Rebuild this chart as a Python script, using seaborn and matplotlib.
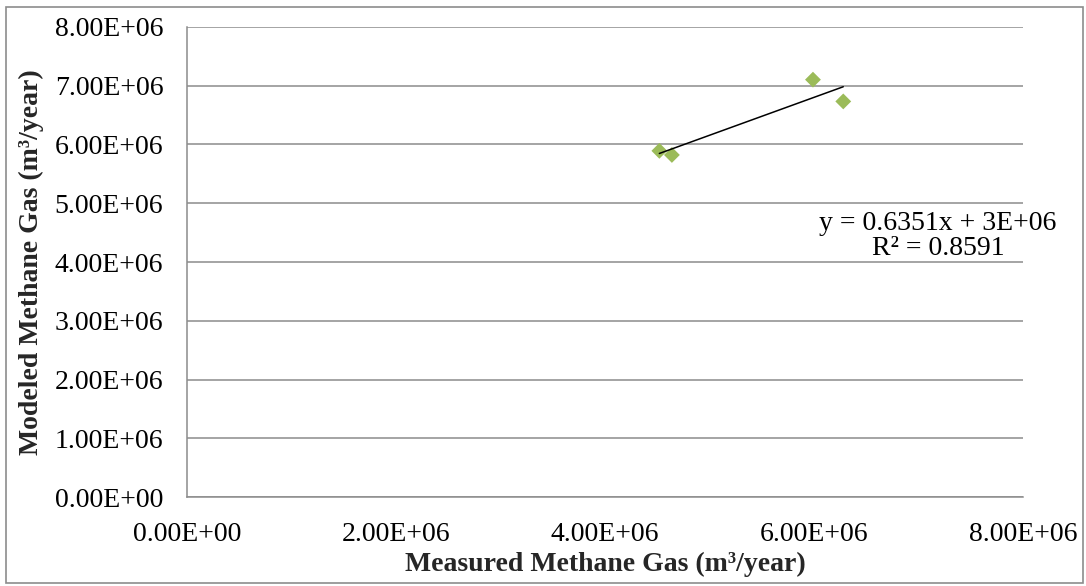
import numpy as np
import pandas as pd
import matplotlib
matplotlib.use("Agg")
import matplotlib.pyplot as plt
from matplotlib.ticker import FuncFormatter, MultipleLocator
from matplotlib.patches import Rectangle
import seaborn as sns

# Measured vs modeled methane generation (m³/year)
measured = [4.52e6, 4.64e6, 5.99e6, 6.28e6]
modeled = [5.89e6, 5.82e6, 7.10e6, 6.73e6]
equation_label = "y = 0.6351x + 3E+06\nR² = 0.8591"
x_label = "Measured Methane Gas (m³/year)"
y_label = "Modeled Methane Gas (m³/year)"

df = pd.DataFrame({"measured": measured, "modeled": modeled})

sns.set_theme(style="white")
plt.rcParams["font.family"] = ["Liberation Serif", "DejaVu Serif"]

fig = plt.figure(figsize=(10.86, 5.86), dpi=100)
ax = fig.add_axes([0.1722, 0.1514, 0.7698, 0.803])

grid_col = "#8c8c8c"
fs = 20

sns.scatterplot(data=df, x="measured", y="modeled", marker="D", s=65,
                color="#9bbb59", edgecolor="none", ax=ax, zorder=3)

# Linear trendline over the range of the data
slope, intercept = np.polyfit(df["measured"], df["modeled"], 1)
xs = np.array([df["measured"].min(), df["measured"].max()])
ax.plot(xs, slope * xs + intercept, color="black", lw=1.1, zorder=4)

ax.text(938 / 1086, 1 - 236 / 586, equation_label, transform=fig.transFigure,
        ha="center", va="center", multialignment="center",
        fontsize=fs, linespacing=1.05, color="black")

ax.set_xlim(0, 8e6)
ax.set_ylim(0, 8e6)
ax.xaxis.set_major_locator(MultipleLocator(2e6))
ax.yaxis.set_major_locator(MultipleLocator(1e6))
sci = FuncFormatter(lambda v, p: f"{v:.2E}")
ax.xaxis.set_major_formatter(sci)
ax.yaxis.set_major_formatter(sci)

ax.grid(axis="y", color=grid_col, lw=1.1)
ax.grid(axis="x", visible=False)
for side in ("top", "right"):
    ax.spines[side].set_visible(False)
for side in ("left", "bottom"):
    ax.spines[side].set_color(grid_col)
    ax.spines[side].set_linewidth(1.1)

ax.tick_params(axis="both", which="major", direction="out", length=5,
               width=1.1, color=grid_col, labelsize=fs, labelcolor="black")
ax.tick_params(axis="y", pad=12)
ax.tick_params(axis="x", pad=13)

ax.set_xlabel(x_label, fontsize=fs, fontweight="bold", labelpad=3)
ax.set_ylabel(y_label, fontsize=fs, fontweight="bold", labelpad=8)

# Chart-area frame
fig.patches.append(Rectangle((6 / 1086, 3 / 586), 1077 / 1086, 576 / 586,
                             transform=fig.transFigure, fill=False,
                             edgecolor="#8c8c8c", lw=1.2))

fig.savefig("out.png", dpi=100)
